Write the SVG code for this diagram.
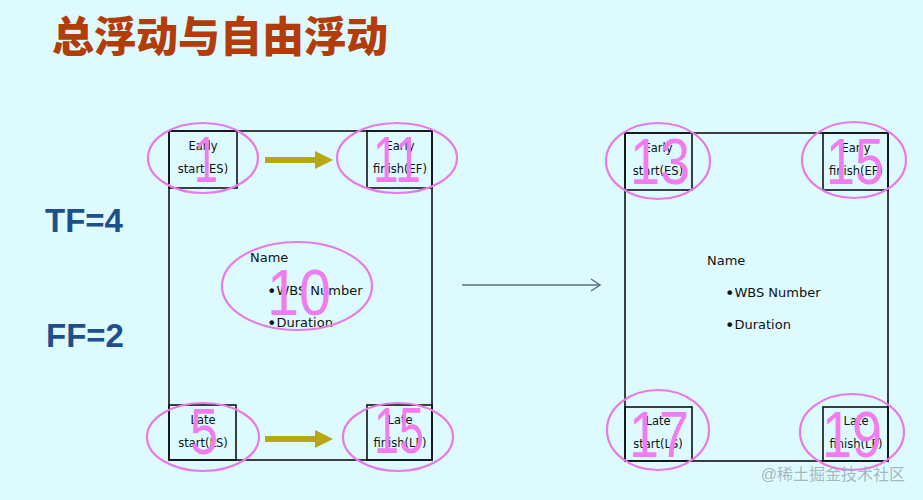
<svg xmlns="http://www.w3.org/2000/svg" width="923" height="500" viewBox="0 0 923 500">
<style>
.box{fill:none;stroke:#111;stroke-width:1.6}
.lbl{font-family:"DejaVu Sans",sans-serif;font-size:11.5px;fill:#111;text-anchor:middle}
.body{font-family:"DejaVu Sans",sans-serif;font-size:13px;fill:#111}
.bul{font-size:16px}
.num{font-family:"Liberation Sans",Arial,sans-serif;font-size:64px;fill:#F07CF0;text-anchor:middle}
.ring{fill:none;stroke:#E67AE6;stroke-width:2.2}
.big{font-family:"Liberation Sans","Noto Sans CJK SC",sans-serif;font-weight:bold;font-size:33px;fill:#1F4E8C}
.olive{stroke:#B5A812;stroke-width:6}
</style>
<defs>
<marker id="oh" markerWidth="4" markerHeight="4" refX="0.5" refY="2" orient="auto" markerUnits="strokeWidth"><path d="M0,0.5 L3,2 L0,3.5 Z" fill="#B5A812"/></marker>
</defs>
<rect width="923" height="500" fill="#DDFBFE"/>
<text x="52" y="52" font-family="'Noto Sans CJK SC',sans-serif" font-weight="900" font-size="42" fill="#B23C0A">总浮动与自由浮动</text>
<text class="big" x="45" y="232">TF=4</text>
<text class="big" x="46" y="347">FF=2</text>

<g id="left-task">
<rect class="box" x="169" y="131" width="263" height="329"/>
<text class="body" x="250" y="262">Name</text>
<text class="body" x="267" y="295"><tspan class="bul" dy="1.5">•</tspan><tspan dy="-1.5">WBS Number</tspan></text>
<text class="body" x="267" y="327"><tspan class="bul" dy="1.5">•</tspan><tspan dy="-1.5">Duration</tspan></text>
<text class="num" x="299" y="315" font-size="72" textLength="64" lengthAdjust="spacingAndGlyphs">10</text>
<ellipse class="ring" cx="297" cy="286" rx="75" ry="44"/>
</g>
<g id="left-es">
<rect class="box" x="169" y="131" width="68" height="57"/>
<text class="lbl" x="203" y="150">Early</text>
<text class="lbl" x="203" y="173">start(ES)</text>
<text class="num" x="206" y="182" font-size="62" textLength="24" lengthAdjust="spacingAndGlyphs">1</text>
<ellipse class="ring" cx="203" cy="158" rx="55" ry="35"/>
</g>
<g id="left-ef">
<rect class="box" x="367" y="131" width="65" height="57"/>
<text class="lbl" x="400" y="150">Early</text>
<text class="lbl" x="400" y="173">finish(EF)</text>
<text class="num" x="397" y="182" font-size="62" textLength="48" lengthAdjust="spacingAndGlyphs">11</text>
<ellipse class="ring" cx="397" cy="158" rx="60" ry="35"/>
</g>
<g id="left-ls">
<rect class="box" x="169" y="405" width="67" height="55"/>
<text class="lbl" x="203" y="424">Late</text>
<text class="lbl" x="203" y="447">start(LS)</text>
<text class="num" x="204" y="454" font-size="52" textLength="28" lengthAdjust="spacingAndGlyphs">5</text>
<ellipse class="ring" cx="203" cy="437" rx="56" ry="34"/>
</g>
<g id="left-lf">
<rect class="box" x="367" y="405" width="65" height="55"/>
<text class="lbl" x="400" y="424">Late</text>
<text class="lbl" x="400" y="447">finish(LF)</text>
<text class="num" x="399" y="453" font-size="50" textLength="50" lengthAdjust="spacingAndGlyphs">15</text>
<ellipse class="ring" cx="398" cy="437" rx="55" ry="34"/>
</g>

<g id="right-task">
<rect class="box" x="625" y="133" width="263" height="328"/>
<text class="body" x="707" y="265">Name</text>
<text class="body" x="725" y="297"><tspan class="bul" dy="1.5">•</tspan><tspan dy="-1.5">WBS Number</tspan></text>
<text class="body" x="725" y="329"><tspan class="bul" dy="1.5">•</tspan><tspan dy="-1.5">Duration</tspan></text>
</g>
<g id="right-es">
<rect class="box" x="625" y="133" width="67" height="57"/>
<text class="lbl" x="658" y="152">Early</text>
<text class="lbl" x="658" y="175">start(ES)</text>
<text class="num" x="660" y="184" textLength="60" lengthAdjust="spacingAndGlyphs">13</text>
<ellipse class="ring" cx="658" cy="161" rx="52" ry="38"/>
</g>
<g id="right-ef">
<rect class="box" x="823" y="133" width="65" height="57"/>
<text class="lbl" x="856" y="152">Early</text>
<text class="lbl" x="856" y="175">finish(EF)</text>
<text class="num" x="855" y="184" textLength="58" lengthAdjust="spacingAndGlyphs">15</text>
<ellipse class="ring" cx="854" cy="160" rx="52" ry="38"/>
</g>
<g id="right-ls">
<rect class="box" x="625" y="407" width="67" height="54"/>
<text class="lbl" x="658" y="425">Late</text>
<text class="lbl" x="658" y="448">start(LS)</text>
<text class="num" x="659" y="457" textLength="60" lengthAdjust="spacingAndGlyphs">17</text>
<ellipse class="ring" cx="658" cy="430" rx="51" ry="40"/>
</g>
<g id="right-lf">
<rect class="box" x="823" y="407" width="65" height="54"/>
<text class="lbl" x="856" y="425">Late</text>
<text class="lbl" x="856" y="448">finish(LF)</text>
<text class="num" x="852" y="457" textLength="60" lengthAdjust="spacingAndGlyphs">19</text>
<ellipse class="ring" cx="852" cy="432" rx="52" ry="38"/>
</g>

<g id="connectors">
<line class="olive" x1="265" y1="160" x2="318" y2="160" marker-end="url(#oh)"/>
<line class="olive" x1="265" y1="439" x2="318" y2="439" marker-end="url(#oh)"/>
<line x1="462" y1="285" x2="599" y2="285" stroke="#5B6E85" stroke-width="1.5"/>
<polyline points="591,279 600,285 591,291" fill="none" stroke="#5B6E85" stroke-width="1.5"/>
</g>
<text x="905" y="480" text-anchor="end" font-family="'Liberation Sans','Noto Sans CJK SC',sans-serif" font-size="16" fill="#9AAAB4" fill-opacity="0.85">@稀土掘金技术社区</text>
</svg>
